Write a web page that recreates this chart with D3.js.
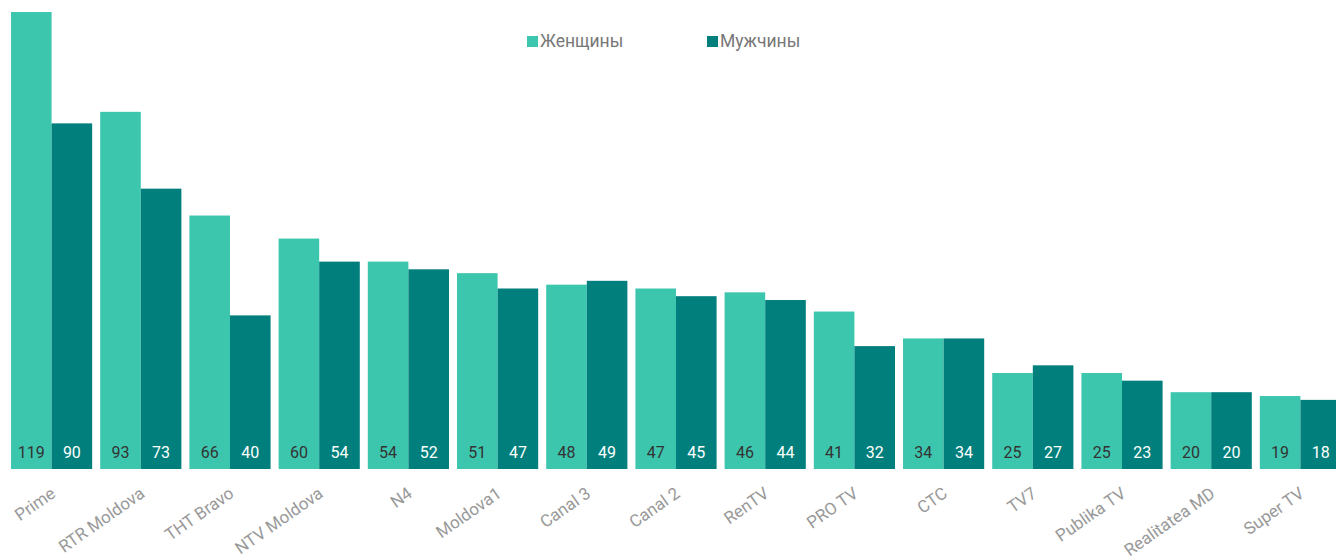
<!DOCTYPE html>
<html>
<head>
<meta charset="utf-8">
<script src="https://cdn.jsdelivr.net/npm/d3@7"></script>
<style>
  body { margin: 0; background: #fff; }
  svg { font-family: Roboto, "Open Sans", sans-serif; }
</style>
</head>
<body>
<svg id="chart"></svg>
<script>
const channels = ["Prime", "RTR Moldova", "THT Bravo", "NTV Moldova", "N4", "Moldova1", "Canal 3", "Canal 2", "RenTV", "PRO TV", "CTC", "TV7", "Publika TV", "Realitatea MD", "Super TV"];
const women = [119, 93, 66, 60, 54, 51, 48, 47, 46, 41, 34, 25, 25, 20, 19];
const men = [90, 73, 40, 54, 52, 47, 49, 45, 44, 32, 34, 27, 23, 20, 18];
const seriesNames = ["Женщины", "Мужчины"];
const colors = ["#3dc6ae", "#007f7c"];
const labelColors = ["#333", "#fff"];

const width = 1336, height = 556;
const baseY = 469;

const svg = d3.select("#chart").attr("width", width).attr("height", height);

const x = d3.scaleBand()
  .domain(channels)
  .range([11, 1341])
  .paddingInner(0.09)
  .paddingOuter(0);

const xs = d3.scaleBand()
  .domain(seriesNames)
  .range([0, x.bandwidth()]);

const y = d3.scaleLinear()
  .domain([0, 119])
  .range([baseY, 12]);

const rows = channels.map((c, i) => ({ channel: c, values: [women[i], men[i]] }));

const groups = svg.selectAll("g.grp")
  .data(rows)
  .enter()
  .append("g")
  .attr("class", "grp")
  .attr("transform", d => `translate(${x(d.channel)},0)`);

groups.selectAll("rect")
  .data(d => d.values.map((v, j) => ({ name: seriesNames[j], v, j })))
  .enter()
  .append("rect")
  .attr("x", d => xs(d.name))
  .attr("y", d => y(d.v))
  .attr("width", xs.bandwidth())
  .attr("height", d => baseY - y(d.v))
  .attr("fill", d => colors[d.j]);

groups.selectAll("text.val")
  .data(d => d.values.map((v, j) => ({ name: seriesNames[j], v, j })))
  .enter()
  .append("text")
  .attr("class", "val")
  .attr("x", d => xs(d.name) + xs.bandwidth() / 2)
  .attr("y", baseY - 11)
  .attr("text-anchor", "middle")
  .style("font-size", "16px")
  .attr("fill", d => labelColors[d.j])
  .text(d => d.v);

// category labels, rotated
svg.selectAll("text.cat")
  .data(channels)
  .enter()
  .append("text")
  .attr("class", "cat")
  .attr("transform", d => `translate(${x(d) + x.bandwidth() / 2 + 5},${baseY + 27}) rotate(-35)`)
  .attr("text-anchor", "end")
  .style("font-size", "17px")
  .attr("fill", "#999")
  .text(d => d);

// legend
const legend = svg.selectAll("g.leg")
  .data(seriesNames)
  .enter()
  .append("g")
  .attr("class", "leg")
  .attr("transform", (d, i) => `translate(${[527, 707][i]},36)`);

legend.append("rect")
  .attr("width", 11)
  .attr("height", 11)
  .attr("fill", (d, i) => colors[i]);

legend.append("text")
  .attr("x", 13)
  .attr("y", 11)
  .style("font-size", "17.5px")
  .attr("fill", "#777")
  .text(d => d);
</script>
</body>
</html>
